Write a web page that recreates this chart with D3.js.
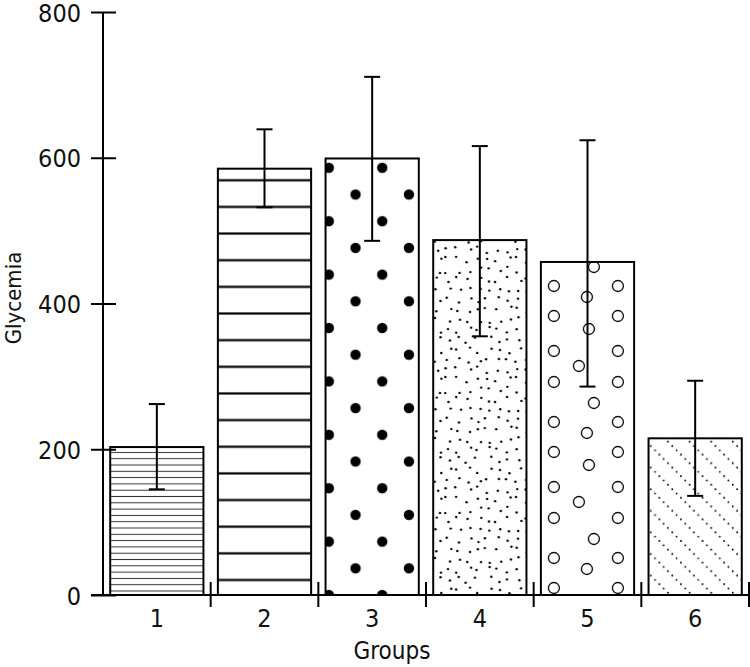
<!DOCTYPE html>
<html>
<head>
<meta charset="utf-8">
<script src="https://cdn.jsdelivr.net/npm/d3@7"></script>
<style>
    body { margin: 0; background: #fff; }
    svg text { font-family: "Liberation Sans Narrow", "Arial Narrow", "DejaVu Sans Condensed", sans-serif; fill: #111; }
</style>
</head>
<body>
<div id="chart"></div>
<script>
/* ===== Data ===== */
const groups = ["1", "2", "3", "4", "5", "6"];
const means = [203, 585, 599, 487, 457, 215];
const errLow = [145, 532, 486, 355, 286, 136];
const errHigh = [262, 639, 711, 616, 624, 294];
const yTicks = [0, 200, 400, 600, 800];

/*
* Bar chart with error bars, each bar filled with its own black & white texture.
*/
class GlycemiaChart {

    width = 750;
    height = 667;
    plot = {left: 103, right: 749, top: 12, bottom: 595};

    constructor(element_id) {
        this.svg = d3.select('div#' + element_id)
                     .append('svg')
                     .attr('width', this.width)
                     .attr('height', this.height);

        this.x = d3.scaleBand()
                   .domain(groups)
                   .range([this.plot.left, this.plot.right])
                   .paddingInner(0.134)
                   .paddingOuter(0.067);

        this.y = d3.scaleLinear()
                   .domain([0, 800])
                   .range([this.plot.bottom, this.plot.top]);

        this.defs = this.svg.append('defs');
        const fills = [this.hLines(0, 6.3, 4, 1, '#333'),
                       this.hLines(1, 26.65, 15, 2.2, '#000'),
                       this.bigDots(2),
                       this.stipple(3),
                       this.rings(4),
                       this.dottedDiagonals(5)];

        this.drawBars(fills);
        this.drawErrorBars();
        this.drawAxes();
        this.drawLabels();
    }

    pattern(id, w, h, px, py) {
        return this.defs.append('pattern')
                   .attr('id', id)
                   .attr('patternUnits', 'userSpaceOnUse')
                   .attr('width', w)
                   .attr('height', h)
                   .attr('x', px)
                   .attr('y', py);
    }

    // horizontal rules, `offset` px above the baseline
    hLines(i, step, offset, sw, color) {
        const id = 'fill' + i;
        const p = this.pattern(id, 20, step, 0, this.y(0) - offset - step / 2);
        p.append('line')
         .attr('x1', 0).attr('x2', 20)
         .attr('y1', step / 2).attr('y2', step / 2)
         .attr('stroke', color)
         .attr('stroke-width', sw);
        return id;
    }

    bigDots(i) {
        const id = 'fill' + i;
        const s = 53.4;
        const p = this.pattern(id, s, s, this.x(groups[i]) + 3.3, this.y(0));
        [[0, 0], [s, 0], [0, s], [s, s], [s / 2, s / 2]].forEach(([cx, cy]) => {
            p.append('circle').attr('cx', cx).attr('cy', cy).attr('r', 5.2).attr('fill', '#000');
        });
        return id;
    }

    // jittered grid of small dots, fixed seed so it is the same on every load
    stipple(i) {
        const id = 'fill' + i;
        const cell = 10, nx = 10, ny = 12;
        const p = this.pattern(id, cell * nx, cell * ny, this.x(groups[i]), this.y(0));
        let seed = 97;
        const rnd = () => { seed = (seed * 16807) % 2147483647; return seed / 2147483647; };
        for (let r = 0; r < ny; r++) {
            for (let c = 0; c < nx; c++) {
                p.append('circle')
                 .attr('cx', c * cell + 1.5 + rnd() * (cell - 3))
                 .attr('cy', r * cell + 1.5 + rnd() * (cell - 3))
                 .attr('r', 1.2)
                 .attr('fill', '#000');
            }
        }
        return id;
    }

    rings(i) {
        const id = 'fill' + i;
        const w = 64, h = 136;
        const p = this.pattern(id, w, h, this.x(groups[i]) + 13, this.y(0));
        const jitter = [[0, 0, 0], [4, 4, 7], [-2, 1, -8], [1, -2, 2]];
        jitter.forEach(([dl, dm, dmx], k) => {
            const yl = h - 7 - 34 * k + dl;
            const ym = h - 26 - 34 * k + dm;
            [[0, yl], [w, yl], [33 + dmx, ym]].forEach(([cx, cy]) => {
                p.append('circle')
                 .attr('cx', cx).attr('cy', cy).attr('r', 5.5)
                 .attr('fill', 'none')
                 .attr('stroke', '#000')
                 .attr('stroke-width', 1.3);
            });
        });
        return id;
    }

    dottedDiagonals(i) {
        const id = 'fill' + i;
        const s = 21.6;
        const p = this.pattern(id, s, s, this.x(groups[i]), this.y(0));
        d3.range(5).forEach(k => {
            const c = (k + 0.5) * s / 5;
            p.append('circle').attr('cx', c).attr('cy', c).attr('r', 0.95).attr('fill', '#000');
        });
        return id;
    }

    drawBars(fills) {
        const bars = this.svg.append('g').classed('bars', true);
        const rows = groups.map((g, i) => ({g, v: means[i], fill: fills[i]}));

        bars.selectAll('rect.bg')
            .data(rows)
            .join('rect')
            .attr('x', d => this.x(d.g))
            .attr('y', d => this.y(d.v))
            .attr('width', this.x.bandwidth())
            .attr('height', d => this.y(0) - this.y(d.v))
            .attr('fill', '#fff');

        bars.selectAll('rect.bar')
            .data(rows)
            .join('rect')
            .attr('x', d => this.x(d.g))
            .attr('y', d => this.y(d.v))
            .attr('width', this.x.bandwidth())
            .attr('height', d => this.y(0) - this.y(d.v))
            .attr('fill', d => `url(#${d.fill})`)
            .attr('stroke', '#000')
            .attr('stroke-width', 2);
    }

    drawErrorBars() {
        const capHalf = 8;
        const g = this.svg.append('g').classed('errors', true)
                      .attr('stroke', '#000')
                      .attr('stroke-width', 2);
        const rows = groups.map((grp, i) => ({
            cx: this.x(grp) + this.x.bandwidth() / 2,
            lo: errLow[i],
            hi: errHigh[i]
        }));
        const item = g.selectAll('g').data(rows).join('g');
        item.append('line')
            .attr('x1', d => d.cx).attr('x2', d => d.cx)
            .attr('y1', d => this.y(d.lo)).attr('y2', d => this.y(d.hi));
        item.append('line')
            .attr('x1', d => d.cx - capHalf).attr('x2', d => d.cx + capHalf)
            .attr('y1', d => this.y(d.hi)).attr('y2', d => this.y(d.hi));
        item.append('line')
            .attr('x1', d => d.cx - capHalf).attr('x2', d => d.cx + capHalf)
            .attr('y1', d => this.y(d.lo)).attr('y2', d => this.y(d.lo));
    }

    drawAxes() {
        const yAxis = d3.axisLeft(this.y)
                        .tickValues(yTicks)
                        .tickSize(12)
                        .tickPadding(10)
                        .tickFormat(d3.format('d'));

        const ya = this.svg.append('g')
                       .classed('axis', true)
                       .attr('transform', `translate(${this.plot.left},0)`)
                       .call(yAxis);
        ya.select('.domain').attr('stroke-width', 2).attr('d', `M0,${this.plot.top}V${this.plot.bottom}`);
        ya.selectAll('.tick line').attr('x1', 13).attr('stroke-width', 2);
        ya.selectAll('.tick text').attr('font-size', 25).attr('dy', '0.36em');

        // baseline with group separators crossing it
        const step = this.x.step();
        const seps = d3.range(1, groups.length + 1).map(k => this.plot.left + k * step);
        const xa = this.svg.append('g').classed('axis', true)
                       .attr('stroke', '#000')
                       .attr('stroke-width', 2);
        xa.append('line')
          .attr('x1', this.plot.left - 12).attr('x2', this.width)
          .attr('y1', this.y(0)).attr('y2', this.y(0));
        xa.selectAll('line.sep')
          .data(seps)
          .join('line')
          .attr('x1', d => d).attr('x2', d => d)
          .attr('y1', this.y(0) - 13).attr('y2', this.y(0) + 12);

        this.svg.append('g')
            .selectAll('text')
            .data(groups)
            .join('text')
            .attr('x', d => this.x(d) + this.x.bandwidth() / 2)
            .attr('y', 627)
            .attr('text-anchor', 'middle')
            .attr('font-size', 25)
            .text(d => d);
    }

    drawLabels() {
        this.svg.append('text')
            .attr('x', 392)
            .attr('y', 659)
            .attr('text-anchor', 'middle')
            .attr('font-size', 24)
            .text('Groups');

        this.svg.append('text')
            .attr('transform', 'translate(21,298) rotate(-90)')
            .attr('text-anchor', 'middle')
            .attr('font-size', 22)
            .text('Glycemia');
    }
}

new GlycemiaChart('chart');
</script>
</body>
</html>
